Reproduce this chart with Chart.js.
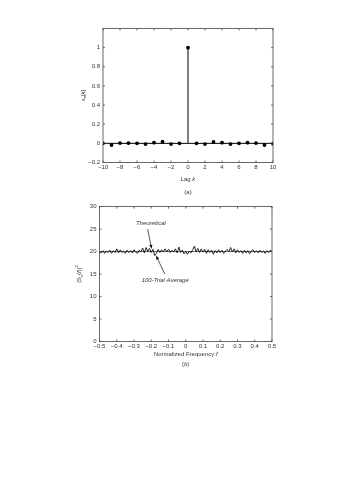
<!DOCTYPE html>
<html lang="en">
<head>
<meta charset="UTF-8" />
<title>Autocorrelation and Spectrum</title>
<script src="https://cdn.jsdelivr.net/npm/chart.js"></script>
<style>
  body { margin: 0; background: #fff; width: 339px; height: 480px; position: relative; overflow: hidden; }
  canvas { position: absolute; left: 0; }
  #lagChart { top: 0; }
  #specChart { top: 200px; }
</style>
</head>
<body>
<canvas id="lagChart" width="339" height="200"></canvas>
<canvas id="specChart" width="339" height="175"></canvas>

<script>
// panel (a): autocorrelation estimate
const lags = [-10, -9, -8, -7, -6, -5, -4, -3, -2, -1, 0, 1, 2, 3, 4, 5, 6, 7, 8, 9, 10];
const autocorr = [0, -0.017, 0.003, 0.003, 0, -0.007, 0.007, 0.017, -0.007, 0, 1,
                  0, -0.007, 0.014, 0.007, -0.007, 0, 0.007, 0.003, -0.017, -0.003];
const lagTicks = [-10, -8, -6, -4, -2, 0, 2, 4, 6, 8, 10];
const corrTicks = [-0.2, 0, 0.2, 0.4, 0.6, 0.8, 1];

// panel (b): spectrum
const freqs = [-0.50, -0.49, -0.48, -0.47, -0.46, -0.45, -0.44, -0.43, -0.42, -0.41,
               -0.40, -0.39, -0.38, -0.37, -0.36, -0.35, -0.34, -0.33, -0.32, -0.31,
               -0.30, -0.29, -0.28, -0.27, -0.26, -0.25, -0.24, -0.23, -0.22, -0.21,
               -0.20, -0.19, -0.18, -0.17, -0.16, -0.15, -0.14, -0.13, -0.12, -0.11,
               -0.10, -0.09, -0.08, -0.07, -0.06, -0.05, -0.04, -0.03, -0.02, -0.01,
               0.00, 0.01, 0.02, 0.03, 0.04, 0.05, 0.06, 0.07, 0.08, 0.09,
               0.10, 0.11, 0.12, 0.13, 0.14, 0.15, 0.16, 0.17, 0.18, 0.19,
               0.20, 0.21, 0.22, 0.23, 0.24, 0.25, 0.26, 0.27, 0.28, 0.29,
               0.30, 0.31, 0.32, 0.33, 0.34, 0.35, 0.36, 0.37, 0.38, 0.39,
               0.40, 0.41, 0.42, 0.43, 0.44, 0.45, 0.46, 0.47, 0.48, 0.49, 0.50];
const trialAvg = [20.0, 19.7, 20.2, 19.6, 20.1, 19.8, 20.3, 19.6, 20.2, 19.8,
                  20.6, 19.7, 20.4, 19.8, 20.1, 19.6, 20.3, 19.8, 20.2, 19.7,
                  20.4, 19.9, 19.6, 20.3, 19.9, 20.8, 19.7, 20.9, 20.0, 20.7,
                  19.8, 20.5, 19.1, 19.6, 20.5, 19.8, 20.4, 19.9, 20.6, 20.0,
                  20.5, 19.8, 20.3, 19.9, 20.6, 19.7, 21.0, 19.8, 20.3, 19.5,
                  20.0, 19.4, 20.1, 19.7, 20.4, 21.2, 19.9, 20.7, 19.8, 20.6,
                  19.9, 20.5, 19.6, 20.4, 19.8, 20.3, 19.4, 20.2, 19.7, 20.4,
                  19.8, 20.3, 19.6, 20.1, 20.5, 20.0, 20.9, 19.9, 20.6, 19.7,
                  20.4, 19.8, 20.2, 19.6, 20.3, 19.7, 20.2, 19.5, 20.1, 20.4,
                  19.8, 20.2, 19.7, 20.3, 19.8, 20.1, 19.6, 20.2, 19.8, 20.3, 20.0];
const theoretical = [20, 20];
const theoFreqs = [-0.5, 0.5];
const freqTicks = [-0.5, -0.4, -0.3, -0.2, -0.1, 0, 0.1, 0.2, 0.3, 0.4, 0.5];
const powerTicks = [0, 5, 10, 15, 20, 25, 30];

const FAM = '"Liberation Sans", Arial, sans-serif';
const TXT = '#333';

function fmt(v) {
  if (v === 0) return '0';
  const s = Math.abs(v) < 1 && !Number.isInteger(v) ? String(+v.toFixed(1)) : String(v);
  return s.replace('-', '\u2212');
}

// draw text made of styled pieces (italic, sub/superscript)
function richText(ctx, parts, x, y, size, vertical) {
  const fontOf = p => (p.it ? 'italic ' : '') + (p.sub || p.sup ? size * 0.72 : size) + 'px ' + FAM;
  let total = 0;
  parts.forEach(p => { ctx.font = fontOf(p); p.w = ctx.measureText(p.t).width; total += p.w; });
  ctx.save();
  ctx.translate(x, y);
  if (vertical) ctx.rotate(-Math.PI / 2);
  ctx.fillStyle = TXT;
  ctx.textBaseline = 'middle';
  ctx.textAlign = 'left';
  let cx = -total / 2;
  parts.forEach(p => {
    ctx.font = fontOf(p);
    const dy = p.sub ? size * 0.3 : (p.sup ? -size * 0.4 : 0);
    ctx.fillText(p.t, cx, dy);
    cx += p.w;
  });
  ctx.restore();
}

function arrow(ctx, x1, y1, x2, y2) {
  const a = Math.atan2(y2 - y1, x2 - x1);
  ctx.save();
  ctx.strokeStyle = '#111';
  ctx.fillStyle = '#111';
  ctx.lineWidth = 0.7;
  ctx.beginPath();
  ctx.moveTo(x1, y1);
  ctx.lineTo(x2 - 3 * Math.cos(a), y2 - 3 * Math.sin(a));
  ctx.stroke();
  ctx.beginPath();
  ctx.moveTo(x2, y2);
  ctx.lineTo(x2 - 4 * Math.cos(a) + 1.6 * Math.sin(a), y2 - 4 * Math.sin(a) - 1.6 * Math.cos(a));
  ctx.lineTo(x2 - 4 * Math.cos(a) - 1.6 * Math.sin(a), y2 - 4 * Math.sin(a) + 1.6 * Math.cos(a));
  ctx.closePath();
  ctx.fill();
  ctx.restore();
}

// matlab style box with inward ticks on all four sides
const boxPlugin = {
  id: 'box',
  afterDraw(chart) {
    const { ctx, chartArea: a, scales: { x, y } } = chart;
    ctx.save();
    ctx.strokeStyle = '#444';
    ctx.lineWidth = 0.8;
    ctx.strokeRect(a.left, a.top, a.right - a.left, a.bottom - a.top);
    ctx.beginPath();
    x.ticks.forEach(t => {
      const px = x.getPixelForValue(t.value);
      ctx.moveTo(px, a.bottom); ctx.lineTo(px, a.bottom - 2);
      ctx.moveTo(px, a.top); ctx.lineTo(px, a.top + 2);
    });
    y.ticks.forEach(t => {
      const py = y.getPixelForValue(t.value);
      ctx.moveTo(a.left, py); ctx.lineTo(a.left + 2, py);
      ctx.moveTo(a.right, py); ctx.lineTo(a.right - 2, py);
    });
    ctx.stroke();
    ctx.restore();
  }
};

const labelPlugin = {
  id: 'labels',
  afterDraw(chart, args, opts) {
    const { ctx, chartArea: a } = chart;
    const mid = (a.left + a.right) / 2;
    richText(ctx, opts.yTitle, a.left - 20, (a.top + a.bottom) / 2, 6, true);
    richText(ctx, opts.xTitle, mid, a.bottom + opts.xGap, 6, false);
    richText(ctx, opts.tag, mid, a.bottom + opts.tagGap, 6, false);
  }
};

const stemPlugin = {
  id: 'stems',
  beforeDatasetsDraw(chart) {
    const { ctx, scales: { y } } = chart;
    const y0 = y.getPixelForValue(0);
    ctx.save();
    ctx.strokeStyle = '#000';
    ctx.lineWidth = 1;
    ctx.beginPath();
    chart.getDatasetMeta(1).data.forEach(pt => {
      ctx.moveTo(pt.x, y0);
      ctx.lineTo(pt.x, pt.y);
    });
    ctx.stroke();
    ctx.restore();
  }
};

const notePlugin = {
  id: 'notes',
  afterDraw(chart) {
    const { ctx, scales: { x, y } } = chart;
    const P = (f, v) => [x.getPixelForValue(f), y.getPixelForValue(v)];
    let [tx, ty] = P(-0.203, 26.2);
    richText(ctx, [{ t: 'Theoretical', it: true }], tx, ty, 6, false);
    arrow(ctx, ...P(-0.221, 25.0), ...P(-0.198, 20.6));
    [tx, ty] = P(-0.119, 13.7);
    richText(ctx, [{ t: '100-Trial Average', it: true }], tx, ty, 6, false);
    arrow(ctx, ...P(-0.122, 15.0), ...P(-0.172, 19.1));
  }
};

function axisOpts(min, max, tickVals, fixed, horizontal, hideAbove) {
  return {
    type: 'linear',
    min: min,
    max: max,
    grid: { display: false, drawTicks: false, tickLength: 0 },
    border: { display: false },
    afterBuildTicks: s => { s.ticks = tickVals.map(v => ({ value: v })); },
    afterFit: s => { if (horizontal) s.height = fixed; else s.width = fixed; },
    ticks: {
      autoSkip: false,
      maxRotation: 0,
      padding: horizontal ? 1 : 3,
      color: TXT,
      font: { family: FAM, size: 6 },
      callback: v => (hideAbove !== undefined && v > hideAbove) ? '' : fmt(v)
    }
  };
}

new Chart(document.getElementById('lagChart'), {
  type: 'scatter',
  data: {
    datasets: [
      {
        data: [{ x: lags[0], y: 0 }, { x: lags[lags.length - 1], y: 0 }],
        showLine: true, borderColor: '#000', borderWidth: 1, pointRadius: 0
      },
      {
        data: lags.map((k, i) => ({ x: k, y: autocorr[i] })),
        pointRadius: 1.9, pointBackgroundColor: '#000', pointBorderColor: '#000', pointBorderWidth: 0
      }
    ]
  },
  options: {
    responsive: false,
    animation: false,
    layout: { padding: { left: 0, right: 66, top: 28.5, bottom: 0 } },
    plugins: {
      legend: { display: false },
      tooltip: { enabled: false },
      labels: {
        yTitle: [{ t: 's', it: true }, { t: 'x', it: true, sub: true }, { t: '[' }, { t: 'k', it: true }, { t: ']' }],
        xTitle: [{ t: 'Lag ' }, { t: 'k', it: true }],
        tag: [{ t: '(' }, { t: 'a', it: true }, { t: ')' }],
        xGap: 16.8, tagGap: 30.2
      }
    },
    scales: {
      x: axisOpts(-10, 10, lagTicks, 37.5, true),
      y: axisOpts(-0.2, 1.2, corrTicks, 103, false)
    }
  },
  plugins: [stemPlugin, boxPlugin, labelPlugin]
});

new Chart(document.getElementById('specChart'), {
  type: 'scatter',
  data: {
    datasets: [
      {
        data: theoFreqs.map((f, i) => ({ x: f, y: theoretical[i] })),
        showLine: true, borderColor: '#000', borderWidth: 0.6, pointRadius: 0
      },
      {
        data: freqs.map((f, i) => ({ x: f, y: trialAvg[i] })),
        showLine: true, borderColor: '#111', borderWidth: 0.9, pointRadius: 0, tension: 0
      }
    ]
  },
  options: {
    responsive: false,
    animation: false,
    layout: { padding: { left: 0, right: 67, top: 4.7, bottom: 0 } },
    plugins: {
      legend: { display: false },
      tooltip: { enabled: false },
      labels: {
        yTitle: [{ t: '|S' }, { t: 'x', it: true, sub: true }, { t: '(' }, { t: 'f', it: true }, { t: ')|' }, { t: '2', sup: true }],
        xTitle: [{ t: 'Normalized Frequency ' }, { t: 'f', it: true }],
        tag: [{ t: '(' }, { t: 'b', it: true }, { t: ')' }],
        xGap: 13.2, tagGap: 22.8
      }
    },
    scales: {
      x: axisOpts(-0.5, 0.5, freqTicks, 33.5, true),
      y: axisOpts(0, 30, powerTicks, 99.5, false)
    }
  },
  plugins: [boxPlugin, labelPlugin, notePlugin]
});
</script>
</body>
</html>
